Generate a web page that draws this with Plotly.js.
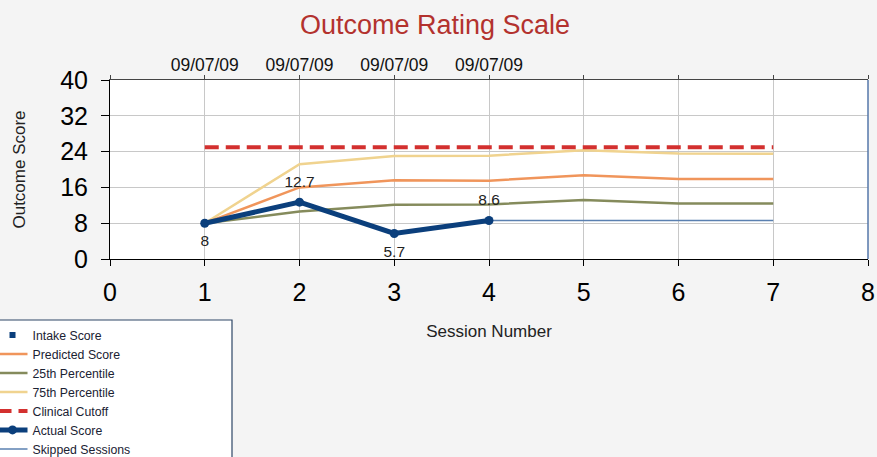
<!DOCTYPE html>
<html>
<head>
<meta charset="utf-8">
<script src="https://cdn.plot.ly/plotly-3.0.1.min.js"></script>
<style>
  html, body { margin: 0; padding: 0; background: #f4f4f4; }
  #chart { width: 877px; height: 457px; }
</style>
</head>
<body>
<div id="chart"></div>
<script>
// ---- data ----
var sessions = [1, 2, 3, 4, 5, 6, 7];
var predictedScore = [8, 16.0, 17.6, 17.5, 18.7, 17.9, 17.9];
var pct25 = [8, 10.6, 12.1, 12.2, 13.2, 12.4, 12.4];
var pct75 = [8, 21.2, 23.0, 23.1, 24.3, 23.6, 23.5];
var clinicalCutoff = [25, 25, 25, 25, 25, 25, 25];
var actualSessions = [1, 2, 3, 4];
var actualScore = [8, 12.7, 5.7, 8.6];
var actualLabels = ['8', '12.7', '5.7', '8.6'];
var skippedSessions = [4, 5, 6, 7];
var skippedScore = [8.6, 8.6, 8.6, 8.6];
var intakeSession = [1];
var intakeScore = [8];
var dateTickVals = [0, 1, 2, 3, 4, 5, 6, 7, 8];
var dateTickText = ['', '09/07/09', '09/07/09', '09/07/09', '09/07/09', '', '', '', ''];

var navy = '#0b3f7c';
var traces = [
  { x: sessions, y: pct75, name: '75th Percentile', mode: 'lines', legendrank: 4,
    line: { color: '#f0d38f', width: 2.5 } },
  { x: sessions, y: predictedScore, name: 'Predicted Score', mode: 'lines', legendrank: 2,
    line: { color: '#f0955b', width: 2.5 } },
  { x: sessions, y: pct25, name: '25th Percentile', mode: 'lines', legendrank: 3,
    line: { color: '#858b5c', width: 2.5 } },
  { x: sessions, y: clinicalCutoff, name: 'Clinical Cutoff', mode: 'lines', legendrank: 5,
    line: { color: '#d3302f', width: 4, dash: '14px,7px' } },
  { x: skippedSessions, y: skippedScore, name: 'Skipped Sessions', mode: 'lines', legendrank: 7,
    line: { color: '#5a80b0', width: 1.5 } },
  { x: actualSessions, y: actualScore, name: 'Actual Score', mode: 'lines+markers', legendrank: 6,
    line: { color: navy, width: 5 }, marker: { color: navy, size: 9, symbol: 'circle' } },
  // value labels for the actual score points
  { x: actualSessions, y: actualScore, mode: 'markers+text', showlegend: false, hoverinfo: 'skip',
    text: actualLabels, textposition: ['bottom center', 'top center', 'bottom center', 'top center'],
    textfont: { family: 'Liberation Sans, Arial, sans-serif', size: 15.5, color: '#222' },
    marker: { size: 17, opacity: 0 } },
  { x: intakeSession, y: intakeScore, name: 'Intake Score', mode: 'markers', legendrank: 1,
    marker: { color: navy, size: 6, symbol: 'square' } },
  { x: [1], y: [null], xaxis: 'x2', yaxis: 'y', showlegend: false, hoverinfo: 'skip', mode: 'markers' }
];

var layout = {
  width: 877, height: 457,
  margin: { l: 110, r: 9, t: 80, b: 198, autoexpand: false },
  paper_bgcolor: '#f4f4f4',
  plot_bgcolor: '#ffffff',
  font: { family: 'Liberation Sans, Arial, sans-serif', color: '#111' },
  title: {
    text: 'Outcome Rating Scale',
    font: { family: 'Liberation Sans, Arial, sans-serif', size: 27, color: '#b3322e' },
    x: 0.496, xanchor: 'center', y: 0.947, yanchor: 'middle'
  },
  showlegend: true,
  legend: {
    x: -0.155, xanchor: 'left', y: -0.343, yanchor: 'top',
    bgcolor: 'rgba(0,0,0,0)', borderwidth: 0,
    font: { family: 'Liberation Sans, Arial, sans-serif', size: 12.3, color: '#1a2233' },
    traceorder: 'normal'
  },
  xaxis: {
    range: [0, 8], dtick: 1, tick0: 0,
    showgrid: true, gridcolor: '#c8c8c8', gridwidth: 1, zeroline: false,
    showline: true, linecolor: '#000', linewidth: 1,
    ticks: 'outside', ticklen: 6, tickcolor: '#000',
    tickfont: { size: 25, color: '#000' }, ticklabelstandoff: 5,
    title: { text: 'Session Number', font: { size: 17, color: '#222' }, standoff: 20 }
  },
  xaxis2: {
    overlaying: 'x', side: 'top', anchor: 'y', range: [0, 8],
    tickmode: 'array', tickvals: dateTickVals, ticktext: dateTickText,
    showgrid: false, zeroline: false,
    showline: true, linecolor: '#444', linewidth: 1,
    ticks: 'outside', ticklen: 4, tickcolor: '#444',
    tickfont: { size: 17.5, color: '#111' }, ticklabelstandoff: -3
  },
  yaxis: {
    range: [0, 40], dtick: 8, tick0: 0,
    showgrid: true, gridcolor: '#c8c8c8', gridwidth: 1, zeroline: false,
    showline: true, linecolor: '#000', linewidth: 1,
    ticks: 'outside', ticklen: 8, tickcolor: '#000',
    tickfont: { size: 25, color: '#000' }, ticklabelstandoff: 8,
    title: { text: 'Outcome Score', font: { size: 17, color: '#222' }, standoff: 30 }
  },
  shapes: [
    { type: 'line', xref: 'paper', yref: 'paper', x0: 1, x1: 1, y0: 0, y1: 1,
      line: { color: '#5577aa', width: 1.5 } },
    { type: 'rect', xref: 'paper', yref: 'paper', layer: 'above',
      x0: -0.16, x1: (232 - 110) / 758, y0: 1 - (320 - 80) / 179, y1: 1 - (459 - 80) / 179,
      fillcolor: '#ffffff', line: { color: '#2e4666', width: 1.2 } }
  ]
};

Plotly.newPlot('chart', traces, layout, { displayModeBar: false, staticPlot: true });
</script>
</body>
</html>
